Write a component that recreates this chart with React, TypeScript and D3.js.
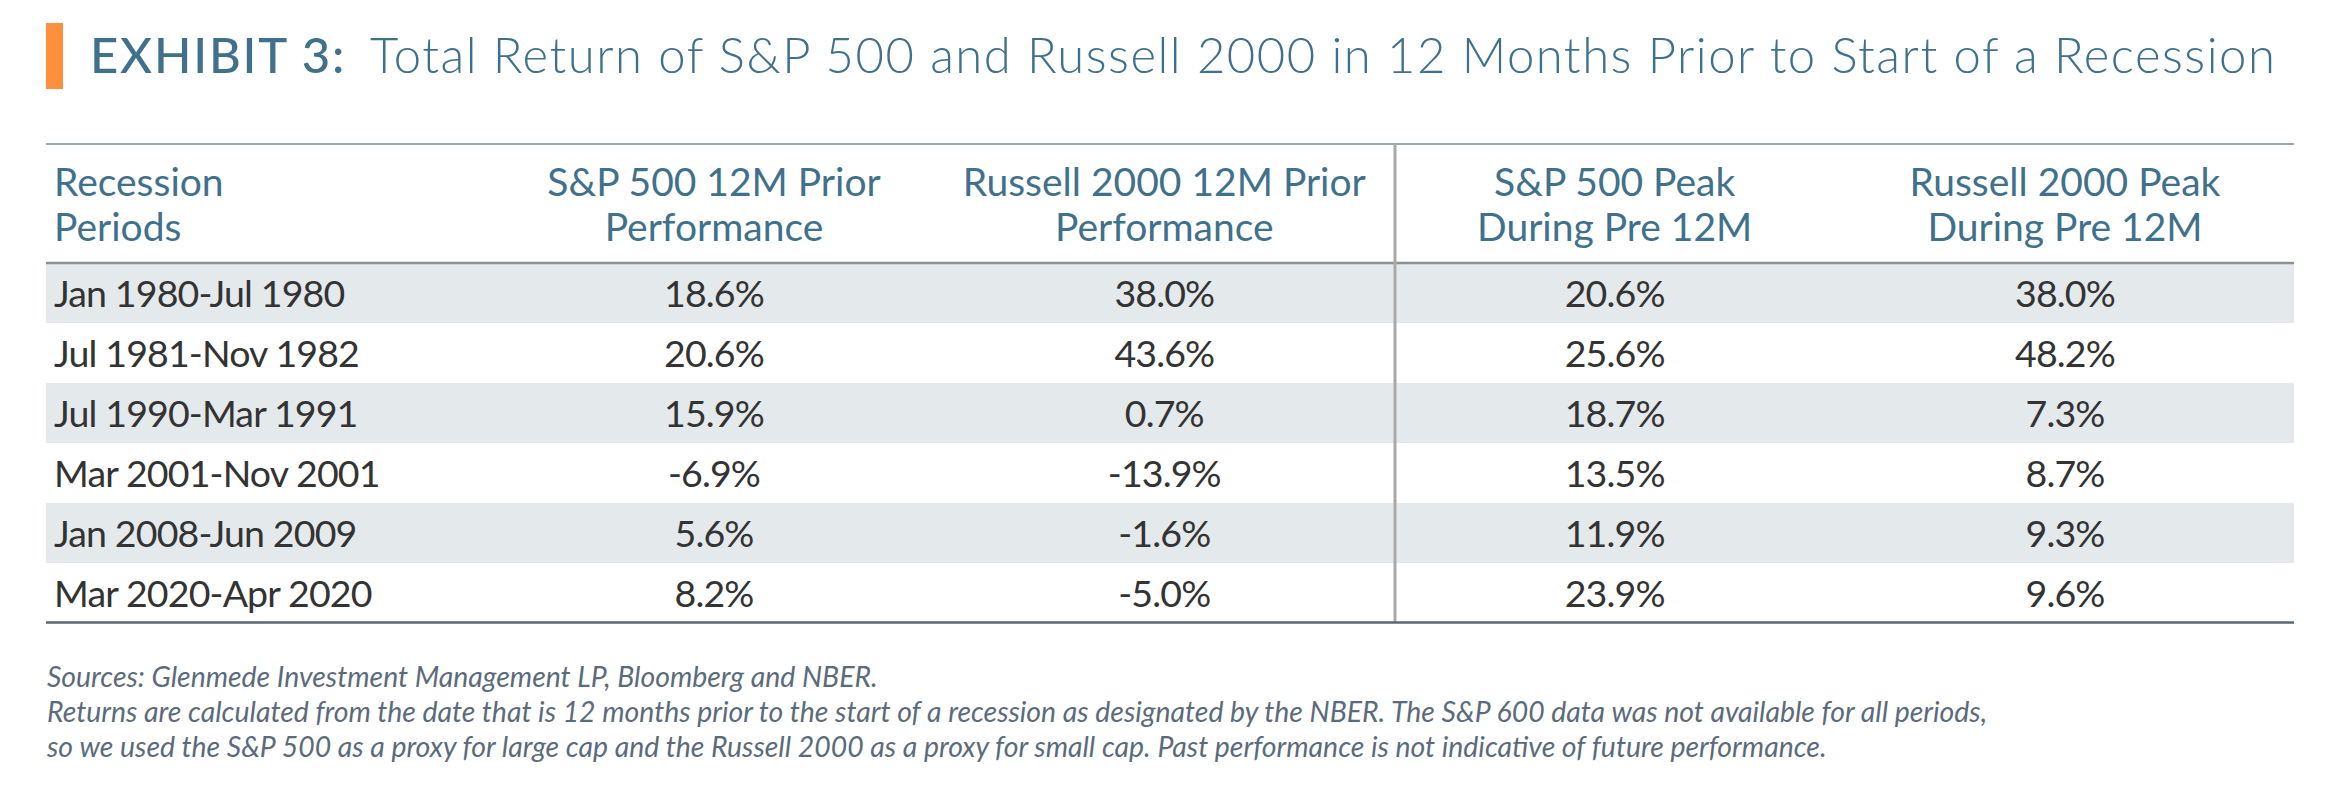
import React from "react";
import * as d3 from "d3";

const periods = [
  "Jan 1980-Jul 1980",
  "Jul 1981-Nov 1982",
  "Jul 1990-Mar 1991",
  "Mar 2001-Nov 2001",
  "Jan 2008-Jun 2009",
  "Mar 2020-Apr 2020",
];
const sp500Prior = [18.6, 20.6, 15.9, -6.9, 5.6, 8.2];
const russellPrior = [38.0, 43.6, 0.7, -13.9, -1.6, -5.0];
const sp500Peak = [20.6, 25.6, 18.7, 13.5, 11.9, 23.9];
const russellPeak = [38.0, 48.2, 7.3, 8.7, 9.3, 9.6];

const firstHeader = ["Recession", "Periods"];
const valueHeaders = [
  ["S&P 500 12M Prior", "Performance"],
  ["Russell 2000 12M Prior", "Performance"],
  ["S&P 500 Peak", "During Pre 12M"],
  ["Russell 2000 Peak", "During Pre 12M"],
];
const seriesKeys = ["sp500Prior", "russellPrior", "sp500Peak", "russellPeak"];
const seriesValues = [sp500Prior, russellPrior, sp500Peak, russellPeak];

const titleBold = "EXHIBIT 3:";
const titleLight = "Total Return of S&P 500 and Russell 2000 in 12 Months Prior to Start of a Recession";
const notes = [
  "Sources: Glenmede Investment Management LP, Bloomberg and NBER.",
  "Returns are calculated from the date that is 12 months prior to the start of a recession as designated by the NBER. The S&P 600 data was not available for all periods,",
  "so we used the S&P 500 as a proxy for large cap and the Russell 2000 as a proxy for small cap. Past performance is not indicative of future performance.",
];

const W = 2350;
const H = 804;
const FONT = "Lato, 'Open Sans', sans-serif";
const BLUE = "#3f718d";
const TEXT = "#333333";
const BAND = "#e4e9ec";

export default function App() {
  const tableLeft = 46;
  const tableRight = 2294;
  const topRule = 144;
  const headerBottom = 263;
  const bodyBottom = 623;
  const sepX = 1395;

  const y = d3.scaleBand<string>().domain(periods).range([headerBottom, bodyBottom]).padding(0);
  const x = d3.scalePoint<string>().domain(seriesKeys).range([714, 2065]);
  const fmt = (v: number) => d3.format(".1f")(v).replace("\u2212", "-") + "%";
  const rowFont = 37.5;
  const rowLs = -0.85;

  return (
    <svg
      width={W}
      height={H}
      viewBox={`0 0 ${W} ${H}`}
      style={{ position: "absolute", left: 0, top: 0, background: "#fff" }}
      fontFamily={FONT}
    >
      <rect x={0} y={0} width={W} height={H} fill="#fff" />
      {/* Title */}
      <rect x={46} y={23} width={17} height={66} fill="#ff8f3b" />
      <text x={90} y={73} fontSize={49} fill={BLUE} fontWeight={500} letterSpacing={1.8}>
        {titleBold}
      </text>
      <text x={370} y={73} fontSize={49} fill={BLUE} fontWeight={300} letterSpacing={1.5}>
        {titleLight}
      </text>

      {/* Row bands */}
      {periods.map((p, i) =>
        i % 2 === 0 ? (
          <rect key={p} x={tableLeft} y={y(p)!} width={tableRight - tableLeft} height={y.bandwidth()} fill={BAND} />
        ) : null
      )}

      {/* Rules */}
      <line x1={tableLeft} x2={tableRight} y1={topRule} y2={topRule} stroke="#7d8a94" strokeWidth={1.5} />
      <line x1={tableLeft} x2={tableRight} y1={headerBottom} y2={headerBottom} stroke="#8b9196" strokeWidth={2.5} />
      <line x1={sepX} x2={sepX} y1={topRule} y2={bodyBottom} stroke="#a9a9a9" strokeWidth={3} />
      <line x1={tableLeft} x2={tableRight} y1={bodyBottom - 0.5} y2={bodyBottom - 0.5} stroke="#5b6771" strokeWidth={2.5} />

      {/* Header */}
      {firstHeader.map((t, j) => (
        <text key={t} x={54} y={196 + j * 44.5} fontSize={39} fill={BLUE}>
          {t}
        </text>
      ))}
      {valueHeaders.map((lines, k) =>
        lines.map((t, j) => (
          <text key={k + "-" + j} x={x(seriesKeys[k])!} y={196 + j * 44.5} fontSize={39} fill={BLUE} textAnchor="middle">
            {t}
          </text>
        ))
      )}

      {/* Body */}
      {periods.map((p) => {
        const cy = y(p)! + y.bandwidth() / 2 + rowFont * 0.37;
        return (
          <text key={p} x={54} y={cy} fontSize={rowFont} fill={TEXT} letterSpacing={rowLs}>
            {p}
          </text>
        );
      })}
      {seriesValues.map((vals, k) =>
        vals.map((v, i) => (
          <text
            key={k + "-" + i}
            x={x(seriesKeys[k])!}
            y={y(periods[i])! + y.bandwidth() / 2 + rowFont * 0.37}
            fontSize={rowFont}
            fill={TEXT}
            textAnchor="middle"
            letterSpacing={rowLs}
          >
            {fmt(v)}
          </text>
        ))
      )}

      {/* Notes */}
      {notes.map((t, i) => (
        <text key={i} x={47} y={687 + i * 35} fontSize={28.4} fill="#5b6b7b" fontStyle="italic" fontWeight={400}>
          {t}
        </text>
      ))}
    </svg>
  );
}
